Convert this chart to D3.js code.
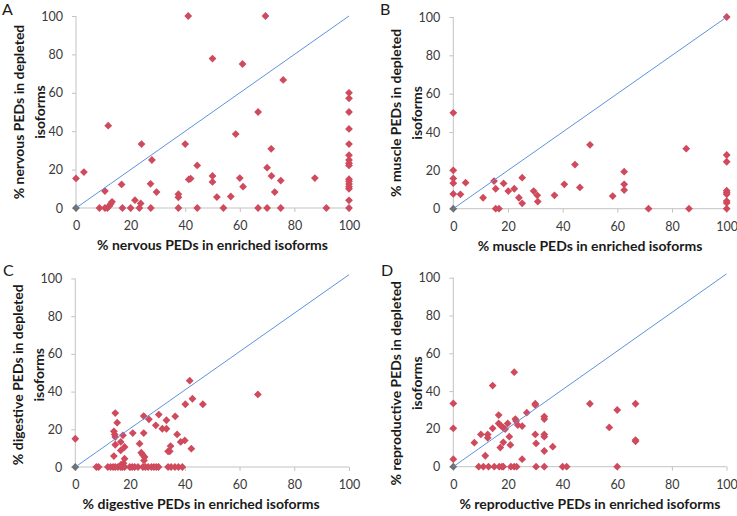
<!DOCTYPE html>
<html><head><meta charset="utf-8">
<script src="https://cdn.jsdelivr.net/npm/d3@7"></script>
<style>
html,body{margin:0;padding:0;background:#fff;}
svg{display:block;}
text{font-family:Lato,"Open Sans",sans-serif;}
</style></head>
<body>
<svg id="chart" width="737" height="516"></svg>
<script>
// ---- data ----
const panelLetters = ["A","B","C","D"];
const tissues = ["nervous","muscle","digestive","reproductive"];
const xTitles = tissues.map(t => "% " + t + " PEDs in enriched isoforms");
const yTitles1 = tissues.map(t => "% " + t + " PEDs in depleted");
const yTitle2 = "isoforms";
const tickValues = [0,20,40,60,80,100];
const diagonalEnd = [100,100,102,102];

const nervousX = [0,0,2.9,8.6,10.6,10.6,11.5,11.8,12.2,12.7,13.2,16.7,17,20,21.6,23.2,23.7,24,27.3,27.4,27.8,29.5,37.5,37.5,37.5,40,41.1,41.3,42,44.4,44.4,50,50,50,51.6,54,56.7,58.5,60,61,61.2,66.7,66.7,69.4,70,70,71.5,71.6,72.8,75,75,75.9,87.5,91.7,
  100,100,100,100,100,100,100,100,100,100,100,100,100,100,100,100];
const nervousY = [0,15.4,18.7,0,8.8,0,0,42.9,1,2.1,3.2,12.3,0,0,4.1,0,2.4,33.3,12.6,0,25,8.3,7.2,5.6,0,33.3,100,14.9,15.3,22.2,0,77.8,16.7,13.6,5.7,0,6,38.5,15.6,75,11.1,0,50,100,21,0,30.8,16.7,8.3,14.3,0,66.7,15.6,0,
  60,57.1,50,41.2,33.3,27.5,25,23.3,22.2,15,13.9,12.5,11.1,10,4,0];

const muscleX = [0,0,0,0,0,0,2.6,4.5,10.9,14.9,15.5,15.5,16.7,18.4,20.1,22.3,24,25.2,25.2,29.4,30.7,30.9,37,40.6,44.5,46.3,50,58.3,62.5,62.5,62.5,71.4,85.2,86.2,
  100,100,100,100,100,100,100,100,100];
const muscleY = [0,50,20,15.8,13.3,7.7,7.5,13.6,5.7,14.4,10.4,0,0,13.2,9.2,10.4,5.7,16.2,2.8,9.2,7,3.7,7,12.7,23,11.1,33.3,6.6,19.3,12.7,9.7,0,31.3,0,
  100,28,24.5,9.4,8.5,7.5,4,3,0];

const digestiveX = [0,0,
  7.7,8.5,11.9,12.9,13.8,14.6,15.6,16.6,17.2,18,19.9,20.8,21.7,22.9,24.7,25.6,26.6,27.8,28.7,29.6,30.4,33.9,35,36.4,37.7,39.1,
  14.6,15.3,14.1,14.4,14.6,17.4,16.6,14.6,18,16.6,14.1,18,16.7,17.6,21,23.5,24.1,24.6,25.3,25.1,25,25,26.9,29.4,30.5,31.8,33.3,33.3,33.9,34.5,34.8,36.5,37.2,38.5,40,40.2,41.8,42.8,42.4,46.6,66.7];
const digestiveY = [0,15,
  0,0,0,0,0,0,0,0,0,0,0,0,0,0,0,0,0,0,0,0,0,0,0,0,0,0,
  28.6,23.5,18.9,17.2,15.9,16.8,13.3,11.8,10.6,8.8,5.8,4.4,1.2,2,18,12.4,7.6,6.5,5.3,3.5,27,18,25.3,22.1,27.8,20.3,20.3,24.8,8.3,8.3,11.1,26.9,17.3,13.3,14.1,33.3,45.8,36.2,9.7,33.3,38.5];

const reproductiveX = [0,0,0,0,7.7,
  9.3,11,12.9,15,16.8,17.8,18.3,21.1,22.3,23.2,30.3,33.3,40,41.5,60,
  10.1,12.6,12.6,11.7,14.4,14.4,16.6,16.6,17.4,18.3,19,19.9,20.5,18.3,17.2,20.9,22.3,22.7,23,23.6,25.2,25.2,26.9,30,30,33.3,33.3,30,30.3,33.3,33.3,33.3,36.4,50,57.1,60,66.7,66.7,66.7];
const reproductiveY = [0,4,20.3,33.5,12.7,
  0,0,0,0,0,0,0,0,0,0,0,0,0,0,0,
  17.1,17.1,15.3,5.8,42.9,20.3,27.3,22.9,21.7,20.6,19.9,22.9,15.9,12.9,10.1,11.5,50,25.2,24.2,22,21.5,4,28.6,33.3,32.6,26.5,25.2,17.1,12.3,17.1,15.9,8.3,10.6,33.3,20.8,30,33.3,14.1,13.4];

const seriesX = [nervousX, muscleX, digestiveX, reproductiveX];
const seriesY = [nervousY, muscleY, digestiveY, reproductiveY];

// ---- layout ----
const layout = [
  {x0:76,    x1:349,   yb:208,   yt:16,    lx:2,   ly:15,  titleDx:0,   titleDy:0},
  {x0:453.3, x1:726.7, yb:208.7, yt:17,    lx:380, ly:15,  titleDx:0,   titleDy:0},
  {x0:75.3,  x1:349,   yb:467,   yt:278.5, lx:3,   ly:276, titleDx:-11, titleDy:2},
  {x0:453.3, x1:726.5, yb:466.7, yt:277.7, lx:381, ly:276, titleDx:0,   titleDy:11}
];

const svg = d3.select("#chart");
const axisColor = "#c3c3c3";
const markerColor = "#cf4a5c";
const lineColor = "#5e92dd";
const diamond = r => `M0,${-r}L${r},0L0,${r}L${-r},0Z`;

layout.forEach((L, i) => {
  const x = d3.scaleLinear().domain([0,100]).range([L.x0, L.x1]);
  const y = d3.scaleLinear().domain([0,100]).range([L.yb, L.yt]);
  const g = svg.append("g");

  const ya = g.append("g").attr("transform", `translate(${L.x0},0)`)
    .call(d3.axisLeft(y).tickValues(tickValues).tickSize(4).tickPadding(9).tickFormat(d3.format("d")));
  const xa = g.append("g").attr("transform", `translate(0,${L.yb})`)
    .call(d3.axisBottom(x).tickValues(tickValues).tickSize(4).tickPadding(9).tickFormat(d3.format("d")));
  [ya, xa].forEach(a => {
    a.select(".domain").attr("stroke", axisColor).attr("stroke-width", 1);
    a.selectAll(".tick line").attr("stroke", axisColor);
    a.selectAll(".tick text").attr("fill", "#3a3a3a").style("font-size", "12.5px")
      .style("font-family", "Lato, 'Open Sans', sans-serif");
  });
  ya.select(".domain").attr("d", `M0,${L.yb}V${L.yt}`);
  xa.select(".domain").attr("d", `M${L.x0},0H${L.x1}`);

  const pts = seriesX[i].map((v, k) => ({x: v, y: seriesY[i][k]}));
  g.append("g").selectAll("path").data(pts).join("path")
    .attr("d", diamond(3.9))
    .attr("transform", d => `translate(${x(d.x)},${y(d.y)})`)
    .attr("fill", d => (d.x === 0 && d.y === 0) ? "#707070" : markerColor);

  g.append("line")
    .attr("x1", x(0)).attr("y1", y(0))
    .attr("x2", x(100)).attr("y2", y(diagonalEnd[i]))
    .attr("stroke", lineColor).attr("stroke-width", 1);

  g.append("text").attr("x", (L.x0 + L.x1)/2 + L.titleDx).attr("y", L.yb + 42)
    .attr("text-anchor", "middle").attr("font-weight", "bold").attr("font-size", 14)
    .attr("fill", "#1a1a1a").text(xTitles[i]);
  const cy = (L.yb + L.yt)/2 + L.titleDy;
  g.append("text").attr("transform", `translate(${L.x0 - 52},${cy}) rotate(-90)`)
    .attr("text-anchor", "middle").attr("font-weight", "bold").attr("font-size", 14)
    .attr("fill", "#1a1a1a").text(yTitles1[i]);
  g.append("text").attr("transform", `translate(${L.x0 - 31},${cy}) rotate(-90)`)
    .attr("text-anchor", "middle").attr("font-weight", "bold").attr("font-size", 14)
    .attr("fill", "#1a1a1a").text(yTitle2);
  g.append("text").attr("x", L.lx).attr("y", L.ly).attr("font-size", 16)
    .attr("fill", "#1a1a1a").text(panelLetters[i]);
});
</script>
</body></html>
